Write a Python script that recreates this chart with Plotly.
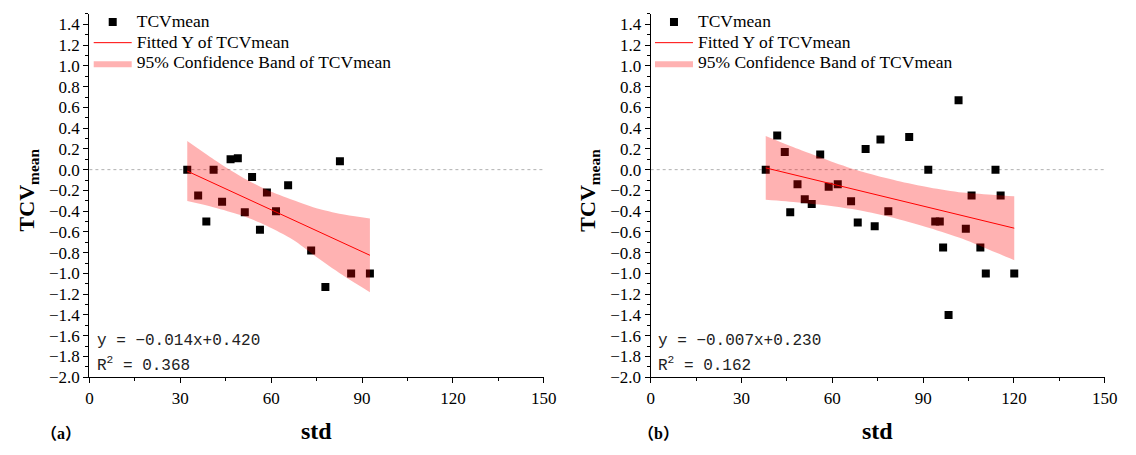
import plotly.graph_objects as go

# ---------------- data ----------------
left_std = [32.3, 35.9, 38.6, 41.0, 43.8, 46.6, 49.0, 51.3, 53.7, 56.3, 58.6, 61.6,
            65.6, 73.2, 77.9, 82.7, 86.4, 92.6]
left_tcv = [0.0, -0.25, -0.50, 0.0, -0.31, 0.10, 0.11, -0.41, -0.07, -0.58, -0.22, -0.40,
            -0.15, -0.78, -1.13, 0.08, -1.00, -1.00]

left_fit_x = [32.3, 92.6]
left_fit_y = [-0.014, -0.825]
left_band_x = [32.3, 41.2, 49.9, 58.5, 67.2, 75.9, 84.5, 92.6]
left_band_upper = [0.275, 0.096, -0.063, -0.194, -0.292, -0.379, -0.435, -0.470]
left_band_lower = [-0.303, -0.364, -0.438, -0.540, -0.675, -0.862, -1.035, -1.180]

right_std = [38.0, 41.8, 44.3, 46.1, 48.5, 50.9, 53.2, 56.0, 58.8, 61.8, 66.2, 68.4,
             71.0, 74.0, 75.9, 78.5, 85.4, 91.7, 94.0, 95.5, 96.6, 98.4, 101.7, 104.1,
             106.0, 108.9, 110.7, 113.9, 115.6, 120.1]
right_tcv = [0.0, 0.33, 0.17, -0.41, -0.14, -0.285, -0.33, 0.145, -0.165, -0.14, -0.305, -0.51,
             0.20, -0.545, 0.29, -0.40, 0.315, 0.0, -0.50, -0.50, -0.75, -1.40, 0.67, -0.57,
             -0.25, -0.75, -1.00, 0.0, -0.25, -1.00]

right_fit_x = [38.0, 120.1]
right_fit_y = [0.017, -0.564]
right_band_x = [38.0, 48.8, 59.6, 70.5, 81.3, 92.1, 103.0, 113.8, 120.1]
right_band_upper = [0.325, 0.198, 0.079, -0.026, -0.107, -0.171, -0.220, -0.243, -0.256]
right_band_lower = [-0.290, -0.316, -0.350, -0.400, -0.472, -0.561, -0.666, -0.796, -0.872]

x_ticks = [0, 30, 60, 90, 120, 150]
legend_names = ["TCVmean", "Fitted Y of TCVmean", "95% Confidence Band of TCVmean"]
eq_left = ["y = −0.014x+0.420", "R<sup>2</sup> = 0.368"]
eq_right = ["y = −0.007x+0.230", "R<sup>2</sup> = 0.162"]
panel_labels = ["（a）", "（b）"]

# ---------------- styling ----------------
W, H = 1136, 455
SERIF = "Liberation Serif"
BAND = "rgba(255,0,0,0.30)"


def px(x):
    return x / W


def py(y):
    return 1 - y / H


def big(s):
    return '<span style="font-size:17.5px">' + s + "</span>"


fig = go.Figure()


def add_panel(xs, ys, fx, fy, bx, bu, bl, xa, ya, legend):
    fig.add_trace(go.Scatter(x=xs, y=ys, mode="markers", name=big(legend_names[0]),
                             marker=dict(symbol="square", size=8, color="black"),
                             xaxis=xa, yaxis=ya, legend=legend, legendrank=1))
    fig.add_trace(go.Scatter(x=bx, y=bl, mode="lines", line=dict(width=0, shape="spline", smoothing=0.8),
                             showlegend=False, hoverinfo="skip", xaxis=xa, yaxis=ya, legend=legend))
    fig.add_trace(go.Scatter(x=bx, y=bu, mode="lines", fill="tonexty", fillcolor=BAND,
                             line=dict(width=0, shape="spline", smoothing=0.8),
                             name=big(legend_names[2]),
                             xaxis=xa, yaxis=ya, legend=legend, legendrank=3))
    fig.add_trace(go.Scatter(x=fx, y=fy, mode="lines", name=big(legend_names[1]),
                             line=dict(color="red", width=1),
                             xaxis=xa, yaxis=ya, legend=legend, legendrank=2))


add_panel(left_std, left_tcv, left_fit_x, left_fit_y, left_band_x, left_band_upper,
          left_band_lower, "x", "y", "legend")
add_panel(right_std, right_tcv, right_fit_x, right_fit_y, right_band_x, right_band_upper,
          right_band_lower, "x2", "y2", "legend2")

ydom = [py(385.7), py(14.3)]
TICKFONT = dict(family=SERIF, size=17, color="black")


def xaxis_def(dom, anchor):
    return dict(domain=dom, anchor=anchor, range=[0, 150], tickmode="array", tickvals=x_ticks,
                showline=True, linecolor="black", linewidth=1.3, mirror=False,
                ticks="outside", ticklen=5, tickwidth=1.2, tickcolor="black",
                showgrid=False, zeroline=False, tickfont=TICKFONT,
                minor=dict(ticks="outside", ticklen=3, tickwidth=1.2, tickcolor="black", dtick=15))


def yaxis_def(anchor):
    return dict(domain=ydom, anchor=anchor, range=[-2.0, 1.5], tickmode="linear", tick0=-2.0,
                dtick=0.2, tickformat=".1f",
                showline=True, linecolor="black", linewidth=1.3, mirror=False,
                ticks="outside", ticklen=5, tickwidth=1.2, tickcolor="black",
                showgrid=False, zeroline=False, tickfont=TICKFONT,
                minor=dict(ticks="outside", ticklen=3, tickwidth=1.2, tickcolor="black", dtick=0.1))


legend_common = dict(xanchor="left", yanchor="top", itemwidth=38, traceorder="normal",
                     bgcolor="rgba(0,0,0,0)", font=dict(family=SERIF, size=13.5, color="black"))

fig.update_layout(
    width=W, height=H, autosize=False,
    margin=dict(l=0, r=0, t=0, b=0),
    font=dict(family=SERIF, size=16, color="black"),
    paper_bgcolor="white", plot_bgcolor="white",
    xaxis=xaxis_def([px(86.7), px(548)], "y"),
    yaxis=yaxis_def("x"),
    xaxis2=xaxis_def([px(656.5), px(1117.5)], "y2"),
    yaxis2=yaxis_def("x2"),
    legend=dict(legend_common, x=px(86), y=py(7)),
    legend2=dict(legend_common, x=px(86 + 569.8), y=py(7)),
    showlegend=True,
)

# zero reference lines (dotted)
for xr, yr in [("x domain", "y"), ("x2 domain", "y2")]:
    fig.add_shape(type="line", xref=xr, yref=yr, x0=0, x1=1, y0=0, y1=0,
                  line=dict(color="#b0b0b0", width=1, dash="dot"), layer="below")

annos = []
for off, eq, lab in [(0, eq_left, panel_labels[0]), (569.8, eq_right, panel_labels[1])]:
    annos.append(dict(text="<b>TCV<sub>mean</sub></b>", textangle=-90, x=px(24 + off), y=py(194),
                      xref="paper", yref="paper", showarrow=False, xanchor="center", yanchor="middle",
                      font=dict(family=SERIF, size=22, color="black")))
    annos.append(dict(text="<b>std</b>", x=px(317.3 + off), y=py(441), xref="paper", yref="paper",
                      showarrow=False, xanchor="center", yanchor="middle",
                      font=dict(family=SERIF, size=24, color="black")))
    annos.append(dict(text="<b>" + lab + "</b>", x=px(58 + (606 if off else 0)), y=py(443),
                      xref="paper", yref="paper", showarrow=False, xanchor="center", yanchor="middle",
                      font=dict(family="Liberation Serif, Noto Sans CJK SC", size=16, color="black")))
    for i, line in enumerate(eq):
        annos.append(dict(text=line, x=px(92.5 + off), y=py(349 + 24 * i), xref="paper", yref="paper",
                          showarrow=False, xanchor="left", yanchor="middle",
                          font=dict(family="Liberation Mono", size=16, color="#222")))
fig.update_layout(annotations=annos)

fig.write_html("out.html")
